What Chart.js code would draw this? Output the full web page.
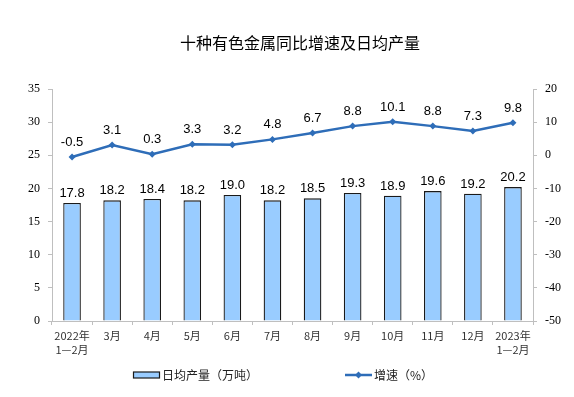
<!DOCTYPE html>
<html><head><meta charset="utf-8">
<script src="https://cdn.jsdelivr.net/npm/chart.js@4/dist/chart.umd.min.js"></script>
<style>html,body{margin:0;padding:0;background:#fff}#wrap{width:574px;height:397px}</style>
</head><body><div id="wrap"><canvas id="c" width="574" height="397"></canvas></div>
<script>
const categories = [["2022年","1—2月"],"3月","4月","5月","6月","7月","8月","9月","10月","11月","12月",["2023年","1—2月"]];
const dailyOutput = [17.8,18.2,18.4,18.2,19.0,18.2,18.5,19.3,18.9,19.6,19.2,20.2];
const growthRate = [-0.5,3.1,0.3,3.3,3.2,4.8,6.7,8.8,10.1,8.8,7.3,9.8];
const leftTicks = [0,5,10,15,20,25,30,35];
const rightTicks = [-50,-40,-30,-20,-10,0,10,20];
const titleText = "十种有色金属同比增速及日均产量";
const barLabel = "日均产量（万吨）";
const lineLabel = "增速（%）";

const CJK = '"Noto Sans CJK SC", "Noto Sans", sans-serif';
const LINE_COLOR = '#2E6DB8';
const BAR_FILL = '#99CCFF';
const BAR_BORDER = '#1a1a1a';

const extras = {
  id: 'extras',
  afterDatasetsDraw(chart) {
    const ctx = chart.ctx;
    ctx.save();
    // title
    ctx.fillStyle = '#000';
    ctx.font = '16px ' + CJK;
    ctx.textAlign = 'center';
    ctx.textBaseline = 'middle';
    ctx.fillText(titleText, 300, 43);
    // data labels
    ctx.font = '13px "Liberation Sans", Arial, sans-serif';
    ctx.fillStyle = '#000';
    ctx.textBaseline = 'alphabetic';
    chart.getDatasetMeta(0).data.forEach((el, i) => {
      ctx.fillText(dailyOutput[i].toFixed(1), el.x, el.y - 6);
    });
    chart.getDatasetMeta(1).data.forEach((el, i) => {
      ctx.fillText(growthRate[i].toFixed(1), el.x, el.y - 11);
    });
    // legend
    const ly = 375;
    ctx.fillStyle = BAR_FILL;
    ctx.strokeStyle = BAR_BORDER;
    ctx.lineWidth = 1.2;
    ctx.fillRect(133.5, ly - 3, 26, 6);
    ctx.strokeRect(133.5, ly - 3, 26, 6);
    ctx.fillStyle = '#222';
    ctx.font = '12px ' + CJK;
    ctx.textAlign = 'left';
    ctx.textBaseline = 'middle';
    ctx.fillText(barLabel, 162, ly);
    ctx.strokeStyle = LINE_COLOR;
    ctx.lineWidth = 2.5;
    ctx.beginPath(); ctx.moveTo(345, ly); ctx.lineTo(372, ly); ctx.stroke();
    ctx.fillStyle = LINE_COLOR;
    ctx.beginPath(); ctx.moveTo(358.5, ly - 3.5); ctx.lineTo(362, ly); ctx.lineTo(358.5, ly + 3.5); ctx.lineTo(355, ly); ctx.closePath(); ctx.fill();
    ctx.fillStyle = '#222';
    ctx.fillText(lineLabel, 374, ly);
    ctx.restore();
  }
};

new Chart(document.getElementById('c'), {
  type: 'bar',
  data: {
    labels: categories,
    datasets: [
      { type: 'bar', label: barLabel, data: dailyOutput, yAxisID: 'y', backgroundColor: BAR_FILL, borderColor: BAR_BORDER, borderWidth: 1.3, barPercentage: 0.44, categoryPercentage: 1, order: 2 },
      { type: 'line', label: lineLabel, data: growthRate, yAxisID: 'y1', borderColor: LINE_COLOR, backgroundColor: LINE_COLOR, borderWidth: 2.5, pointStyle: 'rectRot', pointRadius: 3.5, pointBorderWidth: 0, tension: 0, order: 1 }
    ]
  },
  options: {
    responsive: false,
    animation: false,
    devicePixelRatio: 1,
    layout: { padding: { top: 89, left: 0, right: 0, bottom: 0 } },
    plugins: { legend: { display: false }, tooltip: { enabled: false } },
    scales: {
      x: {
        grid: { drawOnChartArea: false, color: '#bfbfbf', tickLength: 4, offset: true },
        border: { color: '#bfbfbf', width: 1 },
        ticks: { color: '#333', font: { family: CJK, size: 11, lineHeight: 1.35 }, maxRotation: 0, autoSkip: false, padding: 3 },
        afterFit(s) { s.height = 76; }
      },
      y: {
        position: 'left', min: 0, max: 35,
        afterBuildTicks(s) { s.ticks = leftTicks.map(v => ({ value: v })); },
        grid: { drawOnChartArea: false, color: '#bfbfbf', tickLength: 4 },
        border: { color: '#bfbfbf', width: 1 },
        ticks: { color: '#000', font: { family: '"Liberation Serif", serif', size: 12 }, padding: 8 },
        afterFit(s) { s.width = 52; }
      },
      y1: {
        position: 'right', min: -50, max: 20,
        afterBuildTicks(s) { s.ticks = rightTicks.map(v => ({ value: v })); },
        grid: { drawOnChartArea: false, color: '#bfbfbf', tickLength: 4 },
        border: { color: '#bfbfbf', width: 1 },
        ticks: { color: '#000', font: { family: '"Liberation Serif", serif', size: 12 }, padding: 8 },
        afterFit(s) { s.width = 41; }
      }
    }
  },
  plugins: [extras]
});
</script></body></html>
